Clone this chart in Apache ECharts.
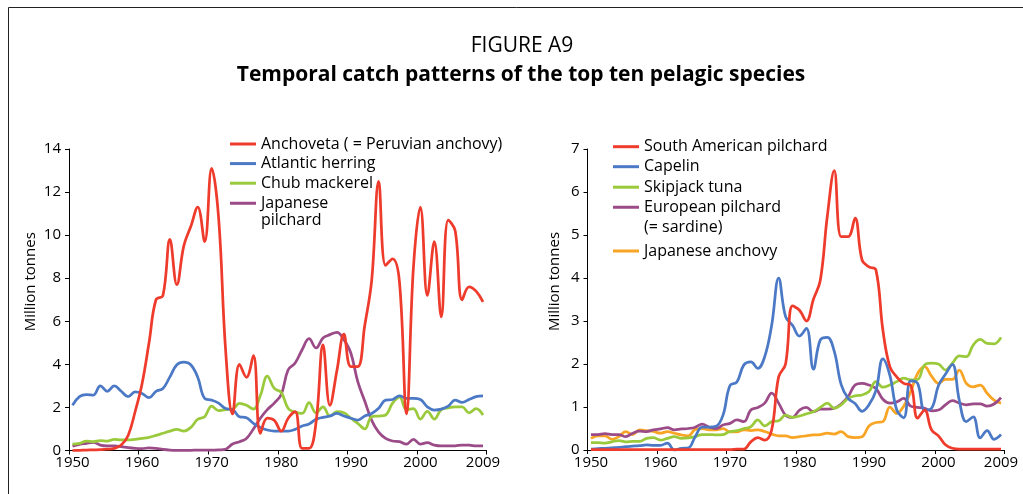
<!DOCTYPE html>
<html><head><meta charset="utf-8">
<script src="https://cdn.jsdelivr.net/npm/echarts/dist/echarts.min.js"></script>
<style>html,body{margin:0;padding:0;background:#fff}#c{width:1023px;height:494px}</style>
</head><body><div id="c"></div>
<script>
const years = ['1950','1951','1952','1953','1954','1955','1956','1957','1958','1959',
'1960','1961','1962','1963','1964','1965','1966','1967','1968','1969',
'1970','1971','1972','1973','1974','1975','1976','1977','1978','1979',
'1980','1981','1982','1983','1984','1985','1986','1987','1988','1989',
'1990','1991','1992','1993','1994','1995','1996','1997','1998','1999',
'2000','2001','2002','2003','2004','2005','2006','2007','2008','2009'];
const tickYears = ['1950','1960','1970','1980','1990','2000','2009'];

// Left panel (million tonnes)
const anchoveta = [0.0,0.01,0.02,0.03,0.04,0.06,0.1,0.25,0.7,1.8,
3.1,5.0,7.0,7.2,9.8,7.7,9.5,10.4,11.3,9.7,
13.1,10.8,4.7,1.7,4.0,3.4,4.4,0.8,1.5,1.4,
0.9,1.5,1.8,0.1,0.1,1.3,4.9,2.1,3.7,5.4,
3.9,3.9,5.8,7.9,12.5,8.6,8.9,7.8,1.7,8.5,
11.3,7.2,9.7,6.2,10.7,10.2,7.0,7.6,7.4,6.9];
const atlanticHerring = [2.1,2.5,2.6,2.57,3.0,2.75,3.0,2.75,2.5,2.72,
2.65,2.45,2.75,2.88,3.42,3.98,4.1,3.98,3.4,2.42,
2.34,2.2,1.95,1.9,1.57,1.52,1.26,1.07,0.95,0.9,
0.9,0.9,0.98,1.14,1.23,1.45,1.54,1.6,1.72,1.6,
1.5,1.41,1.6,1.72,1.96,2.34,2.37,2.54,2.42,2.42,
2.37,2.03,1.88,1.92,2.06,2.34,2.23,2.37,2.5,2.54];
const chubMackerel = [0.3,0.33,0.43,0.41,0.46,0.44,0.52,0.49,0.49,0.52,
0.56,0.61,0.7,0.8,0.9,0.98,0.9,1.07,1.45,1.57,
2.06,1.85,1.9,1.92,2.19,2.1,1.92,2.55,3.45,2.88,
2.7,1.95,1.78,1.72,2.22,1.75,2.03,1.6,1.8,1.75,
1.5,1.26,1.0,1.57,1.6,1.65,2.2,2.48,1.9,1.95,
1.46,1.82,1.46,1.9,1.98,2.02,2.02,1.75,1.94,1.65];
const japanesePilchard = [0.2,0.28,0.33,0.38,0.25,0.21,0.21,0.18,0.13,0.1,
0.09,0.12,0.1,0.05,0.02,0.01,0.01,0.01,0.02,0.02,
0.02,0.03,0.06,0.3,0.41,0.56,1.0,1.5,1.9,2.2,
2.6,3.75,4.06,4.68,5.19,4.76,5.22,5.38,5.49,5.15,
4.53,3.2,2.3,1.4,0.85,0.56,0.44,0.41,0.3,0.52,
0.3,0.36,0.25,0.21,0.21,0.22,0.25,0.25,0.21,0.21];

// Right panel (million tonnes)
const saPilchard = [0.01,0.01,0.01,0.01,0.01,0.01,0.01,0.01,0.01,0.01,
0.01,0.01,0.01,0.01,0.01,0.01,0.01,0.01,0.01,0.01,
0.01,0.02,0.02,0.19,0.29,0.23,0.47,1.7,2.0,3.35,
3.25,3.0,3.5,3.95,5.43,6.5,4.96,4.96,5.39,4.42,
4.26,4.19,2.79,1.94,1.7,1.55,1.51,0.74,0.93,0.47,
0.33,0.12,0.04,0.02,0.02,0.02,0.02,0.02,0.02,0.02];
const capelin = [0.02,0.03,0.04,0.05,0.06,0.08,0.09,0.1,0.12,0.11,
0.11,0.16,0.0,0.04,0.05,0.31,0.53,0.53,0.55,0.81,
1.5,1.58,1.98,2.05,1.9,2.17,2.9,4.0,3.1,2.9,
2.65,2.83,1.88,2.56,2.62,2.3,1.52,1.2,1.08,0.9,
1.05,1.38,2.12,1.74,0.93,0.75,1.61,1.55,0.93,0.97,
1.5,1.76,1.99,1.15,0.66,0.77,0.28,0.45,0.25,0.36];
const skipjack = [0.17,0.17,0.16,0.19,0.22,0.19,0.2,0.2,0.27,0.29,
0.23,0.27,0.31,0.27,0.28,0.31,0.36,0.36,0.35,0.36,
0.43,0.45,0.5,0.54,0.7,0.56,0.66,0.68,0.81,0.76,
0.79,0.84,0.89,0.99,1.09,0.97,1.05,1.2,1.26,1.28,
1.36,1.59,1.46,1.51,1.59,1.67,1.63,1.64,1.98,2.02,
2.0,1.86,2.02,2.19,2.17,2.44,2.57,2.48,2.47,2.62];
const europeanPilchard = [0.36,0.36,0.38,0.36,0.36,0.31,0.39,0.44,0.43,0.47,
0.49,0.52,0.47,0.49,0.5,0.53,0.6,0.53,0.5,0.58,
0.62,0.7,0.66,0.93,0.99,1.09,1.32,1.09,0.81,0.76,
0.93,0.99,0.89,0.95,0.95,0.97,1.07,1.24,1.51,1.55,
1.51,1.43,1.18,1.09,1.12,1.2,1.02,0.99,0.97,0.91,
0.93,1.05,1.15,1.09,1.05,1.07,1.07,1.02,1.07,1.22];
const japaneseAnchovy = [0.27,0.33,0.33,0.25,0.31,0.43,0.36,0.47,0.45,0.43,
0.39,0.43,0.39,0.35,0.33,0.48,0.5,0.47,0.47,0.5,
0.42,0.42,0.47,0.45,0.47,0.43,0.37,0.33,0.33,0.29,
0.31,0.33,0.35,0.36,0.39,0.37,0.43,0.31,0.29,0.31,
0.56,0.64,0.66,1.0,0.85,1.02,1.36,1.78,1.94,1.72,
1.55,1.64,1.64,1.86,1.55,1.47,1.51,1.32,1.16,1.09];

const leftNames = ['Anchoveta ( = Peruvian anchovy)','Atlantic herring','Chub mackerel','Japanese\npilchard'];
const rightNames = ['South American pilchard','Capelin','Skipjack tuna','European pilchard\n(= sardine)','Japanese anchovy'];
const leftData = [anchoveta, atlanticHerring, chubMackerel, japanesePilchard];
const rightData = [saPilchard, capelin, skipjack, europeanPilchard, japaneseAnchovy];
const leftColors = ['#EE3B2C','#4B79C5','#9ACA3C','#9B4B87'];
const rightColors = ['#EE3B2C','#4B79C5','#9ACA3C','#9B4B87','#F8A526'];

const FONT = 'Open Sans';
const chart = echarts.init(document.getElementById('c'), null, {renderer:'canvas'});

function xAxisFor(gi){
  return {
    type:'category', gridIndex:gi, data:years, boundaryGap:true,
    axisLine:{show:true, lineStyle:{color:'#000', width:1}},
    axisTick:{show:true, length:4, interval:(i)=> i%10===0, lineStyle:{color:'#000'}},
    axisLabel:{show:true, color:'#000', fontSize:15, margin:5, fontFamily:FONT,
      interval:(i, v)=> tickYears.indexOf(v) >= 0},
    splitLine:{show:false}
  };
}
function yAxisFor(gi, max, interval, gap){
  return {
    type:'value', gridIndex:gi, min:0, max:max, interval:interval,
    axisLine:{show:true, lineStyle:{color:'#000', width:1}},
    axisTick:{show:true, length:4, lineStyle:{color:'#000'}},
    axisLabel:{color:'#000', fontSize:15, margin:8, fontFamily:FONT},
    splitLine:{show:false},
    name:'Million tonnes', nameLocation:'middle', nameGap:gap, nameRotate:90,
    nameTextStyle:{color:'#000', fontSize:15, fontFamily:FONT, padding:[0,0,0,36]}
  };
}

const series = [];
leftNames.forEach((n,i)=>series.push({name:n, type:'line', xAxisIndex:0, yAxisIndex:0, data:leftData[i],
  smooth:0.4, symbol:'none', lineStyle:{width:2.75, color:leftColors[i]}, itemStyle:{color:leftColors[i]}, z:10-i}));
rightNames.forEach((n,i)=>series.push({name:n, type:'line', xAxisIndex:1, yAxisIndex:1, data:rightData[i],
  smooth:0.4, symbol:'none', lineStyle:{width:2.75, color:rightColors[i]}, itemStyle:{color:rightColors[i]}, z:10-i}));

// legend layout: one component per entry
function legendItem(name, left, centerY, lines, lh){
  const base = {data:[name], orient:'vertical', left:left, padding:0, itemWidth:26,
    itemStyle:{borderWidth:0}, selectedMode:false,
    textStyle:{color:'#000', fontSize:16, fontFamily:FONT, lineHeight:lh}};
  if (lines === 1){
    base.icon = 'rect'; base.itemHeight = 3; base.top = centerY - lh/2;
  } else {
    const h = lh*lines; const c = lh/2;
    base.icon = 'path://M0,0h0.01v0.01h-0.01z M0,'+(c-1.5)+'h26v3h-26z M0,'+(h-0.01)+'h0.01v0.01h-0.01z';
    base.itemHeight = h; base.top = centerY - c;
  }
  return base;
}
const legends = [
  legendItem(leftNames[0], 230, 144, 1, 18),
  legendItem(leftNames[1], 230, 163.6, 1, 18),
  legendItem(leftNames[2], 230, 183.2, 1, 18),
  legendItem(leftNames[3], 230, 203.2, 2, 17.5),
  legendItem(rightNames[0], 613, 146.7, 1, 18),
  legendItem(rightNames[1], 613, 166.7, 1, 18),
  legendItem(rightNames[2], 613, 187.2, 1, 18),
  legendItem(rightNames[3], 613, 207.2, 2, 20),
  legendItem(rightNames[4], 613, 251, 1, 18)
];

chart.setOption({
  animation:false,
  backgroundColor:'#fff',
  textStyle:{fontFamily:FONT},
  grid:[
    {left:69, top:149, width:417.5, height:301.5, outerBoundsMode:'none', containLabel:false},
    {left:587.5, top:149, width:417, height:301, outerBoundsMode:'none', containLabel:false}
  ],
  xAxis:[xAxisFor(0), xAxisFor(1)],
  yAxis:[yAxisFor(0,14,2,31), yAxisFor(1,7,1,25)],
  legend: legends,
  series: series,
  graphic:[
    {type:'rect', shape:{x:8.5, y:7.5, width:1100, height:600}, style:{fill:'none', stroke:'#222', lineWidth:1}, silent:true},
    {type:'text', x:522, y:46.5, style:{text:'FIGURE A9', align:'center', verticalAlign:'middle', fill:'#000', font:'21px "Open Sans"'}},
    {type:'text', x:521, y:75, style:{text:'Temporal catch patterns of the top ten pelagic species', align:'center', verticalAlign:'middle', fill:'#000', font:'bold 21px "Open Sans"'}}
  ]
});
</script></body></html>
